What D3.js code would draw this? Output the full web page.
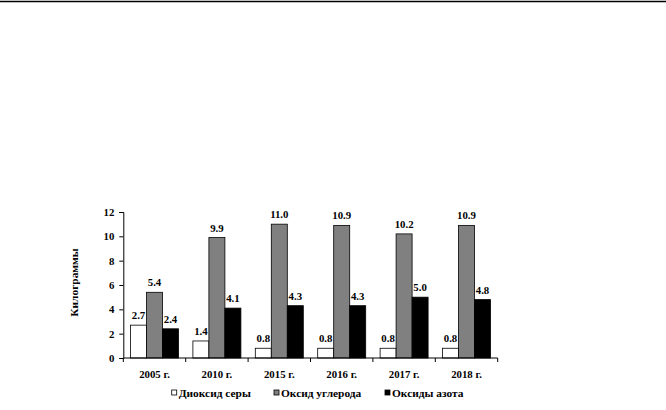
<!DOCTYPE html>
<html><head><meta charset="utf-8">
<script src="https://cdn.jsdelivr.net/npm/d3@7"></script>
<style>
body{margin:0;background:#fff;}
svg text{font-family:"Liberation Serif","Times New Roman",serif;font-weight:bold;}
</style></head>
<body>
<svg id="c" width="666" height="410"></svg>
<script>
const categories = ["2005 г.","2010 г.","2015 г.","2016 г.","2017 г.","2018 г."];
const seriesNames = ["Диоксид серы","Оксид углерода","Оксиды азота"];
const so2 = [2.7,1.4,0.8,0.8,0.8,0.8];
const co = [5.4,9.9,11.0,10.9,10.2,10.9];
const nox = [2.4,4.1,4.3,4.3,5.0,4.8];
const yTicks = [0,2,4,6,8,10,12];
const yLabel = "Килограммы";

const seriesValues = [so2, co, nox];
const fills = ["#ffffff","#808080","#000000"];

const svg = d3.select("#c");
svg.append("rect").attr("width",666).attr("height",410).attr("fill","#fff");
svg.append("line").attr("x1",0).attr("x2",666).attr("y1",1.5).attr("y2",1.5)
  .attr("stroke","#000").attr("stroke-width",1.4);

const x0 = d3.scaleBand().domain(categories).range([123.3,497.7]).padding(0);
const x1 = d3.scaleBand().domain(seriesNames).range([7.2, x0.bandwidth()-7.2]).padding(0);
const y = d3.scaleLinear().domain([0,12]).range([358,212]);

const fs = "10.8px";
const fsCyr = "11.4px";

// Y axis
const yAxis = svg.append("g").attr("transform","translate(123.3,0)")
  .call(d3.axisLeft(y).tickValues(yTicks).tickSize(4).tickPadding(5).tickFormat(d3.format("d")));
yAxis.select(".domain").attr("stroke","#000");
yAxis.selectAll("text").attr("font-size",fs).attr("fill","#000")
  .style("font-family","Liberation Serif").style("font-weight","bold");

// bars
const groups = svg.append("g").selectAll("g").data(categories).join("g")
  .attr("transform",d=>`translate(${x0(d)},0)`);
seriesNames.forEach((s,si)=>{
  groups.append("rect")
    .attr("x",x1(s)).attr("width",x1.bandwidth())
    .attr("y",(d,i)=>y(seriesValues[si][i]))
    .attr("height",(d,i)=>y(0)-y(seriesValues[si][i]))
    .attr("fill",fills[si]).attr("stroke","#000").attr("stroke-width",0.8);
  groups.append("text")
    .attr("x",x1(s)+x1.bandwidth()/2)
    .attr("y",(d,i)=>y(seriesValues[si][i])-6)
    .attr("text-anchor","middle").attr("font-size",fs)
    .text((d,i)=>seriesValues[si][i].toFixed(1));
});

// X axis
svg.append("line").attr("x1",123.3).attr("x2",497.7).attr("y1",358).attr("y2",358).attr("stroke","#000");
const bounds = categories.map(c=>x0(c)).concat([x0.range()[1]]);
svg.append("g").selectAll("line").data(bounds).join("line")
  .attr("x1",d=>d).attr("x2",d=>d).attr("y1",358).attr("y2",362).attr("stroke","#000");
svg.append("g").selectAll("text").data(categories).join("text")
  .attr("x",d=>x0(d)+x0.bandwidth()/2).attr("y",377.5)
  .attr("text-anchor","middle").attr("font-size",fs).text(d=>d);

// Y label
svg.append("text").attr("transform","translate(77.5,282.5) rotate(-90)")
  .attr("text-anchor","middle").attr("font-size",fsCyr).text(yLabel);

// legend
const legX = [171.7, 274, 385];
const leg = svg.append("g").selectAll("g").data(seriesNames).join("g")
  .attr("transform",(d,i)=>`translate(${legX[i]},390)`);
leg.append("rect").attr("width",5).attr("height",5).attr("y",0)
  .attr("fill",(d,i)=>fills[i]).attr("stroke","#000").attr("stroke-width",0.8);
leg.append("text").attr("x",7).attr("y",6.5).attr("font-size",fsCyr).text(d=>d);
</script>
</body></html>
